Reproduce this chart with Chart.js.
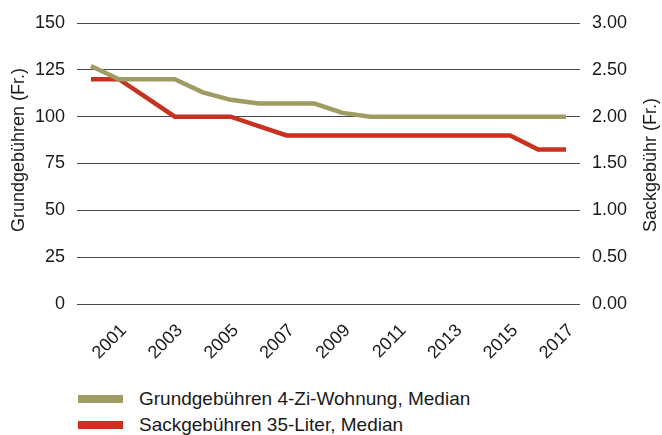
<!DOCTYPE html>
<html>
<head>
<meta charset="utf-8">
<script src="https://cdn.jsdelivr.net/npm/chart.js@4/dist/chart.umd.min.js"></script>
<style>
  html, body { margin: 0; padding: 0; background: #fff; }
  #wrap { position: relative; width: 662px; height: 435px; overflow: hidden; }
  #c { position: absolute; left: 0; top: 0; }
  .leg { position: absolute; left: 78px; font-family: "Liberation Sans", Arial, Helvetica, sans-serif; font-size: 19px; color: #1a1a1a; white-space: nowrap; line-height: 20px; }
  .leg span.sw { display: inline-block; width: 45px; height: 8px; vertical-align: middle; margin-right: 16px; position: relative; top: -1px; }
</style>
</head>
<body>
<div id="wrap">
  <canvas id="c" width="662" height="380"></canvas>
  <div class="leg" id="leg1" style="top:389px;"><span class="sw" id="sw1"></span><span id="t1"></span></div>
  <div class="leg" id="leg2" style="top:415px;"><span class="sw" id="sw2"></span><span id="t2"></span></div>
</div>
<script>
const years = ['2000','2001','2002','2003','2004','2005','2006','2007','2008','2009','2010','2011','2012','2013','2014','2015','2016','2017'];
const grundgebuehren = [127,120,120,120,113,109,107,107,107,102,100,100,100,100,100,100,100,100];
const sackgebuehren = [2.40,2.40,2.20,2.00,2.00,2.00,1.90,1.80,1.80,1.80,1.80,1.80,1.80,1.80,1.80,1.80,1.65,1.65];
const seriesNames = ['Grundgebühren 4-Zi-Wohnung, Median', 'Sackgebühren 35-Liter, Median'];
const axisTitles = ['Grundgebühren (Fr.)', 'Sackgebühr (Fr.)'];
const colors = ['#a09b62', '#c8311f'];

const FONT = '"Liberation Sans", Arial, Helvetica, sans-serif';
const TXT = '#1a1a1a';

document.getElementById('sw1').style.background = colors[0];
document.getElementById('sw2').style.background = colors[1];
document.getElementById('t1').textContent = seriesNames[0];
document.getElementById('t2').textContent = seriesNames[1];

const titlePlugin = {
  id: 'axisTitles',
  afterDraw(chart) {
    const ctx = chart.ctx;
    const draw = (text, x, y) => {
      ctx.save();
      ctx.font = '18px ' + FONT;
      ctx.fillStyle = TXT;
      ctx.textAlign = 'left';
      ctx.textBaseline = 'middle';
      ctx.translate(x, y);
      ctx.rotate(-Math.PI / 2);
      ctx.fillText(text, 0, 0);
      ctx.restore();
    };
    draw(axisTitles[0], 19, 232);
    draw(axisTitles[1], 651, 232);
  }
};

new Chart(document.getElementById('c'), {
  type: 'line',
  data: {
    labels: years,
    datasets: [
      { label: seriesNames[0], data: grundgebuehren, yAxisID: 'y', borderColor: colors[0], backgroundColor: colors[0], borderWidth: 4.5, pointRadius: 0, tension: 0, borderCapStyle: 'butt', borderJoinStyle: 'miter' },
      { label: seriesNames[1], data: sackgebuehren, yAxisID: 'y1', borderColor: colors[1], backgroundColor: colors[1], borderWidth: 4.5, pointRadius: 0, tension: 0, borderCapStyle: 'butt', borderJoinStyle: 'miter' }
    ]
  },
  options: {
    responsive: false,
    animation: false,
    events: [],
    layout: { padding: { top: 23, left: 0, right: 0, bottom: 0 } },
    plugins: { legend: { display: false }, tooltip: { enabled: false } },
    scales: {
      x: {
        offset: true,
        grid: { display: false, drawTicks: false },
        border: { display: false },
        ticks: {
          autoSkip: false, minRotation: 45, maxRotation: 45, padding: 16, labelOffset: 5,
          color: TXT, font: { family: FONT, size: 18 },
          callback: function(v, i) { const l = this.getLabelForValue(v); return (parseInt(l) % 2 === 1) ? l : null; }
        },
        afterFit: s => { s.height = 76; }
      },
      y: {
        position: 'left', min: 0, max: 150,
        grid: { color: '#4a4a4a', lineWidth: 1, drawTicks: false },
        border: { display: false },
        ticks: { stepSize: 25, padding: 12, color: TXT, font: { family: FONT, size: 18 } },
        afterFit: s => { s.width = 77; }
      },
      y1: {
        position: 'right', min: 0, max: 3,
        grid: { display: false, drawTicks: false },
        border: { display: false },
        ticks: { stepSize: 0.5, padding: 12, color: TXT, font: { family: FONT, size: 18 }, callback: v => Number(v).toFixed(2) },
        afterFit: s => { s.width = 82; }
      }
    }
  },
  plugins: [titlePlugin]
});
</script>
</body>
</html>
